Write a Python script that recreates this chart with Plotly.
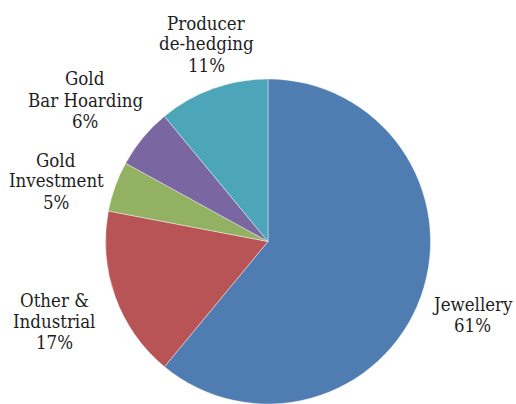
import plotly.graph_objects as go

# Data
categories = ["Jewellery", "Other & Industrial", "Gold Investment", "Gold Bar Hoarding", "Producer de-hedging"]
values = [61, 17, 5, 6, 11]
label_lines = [["Jewellery"], ["Other &", "Industrial"], ["Gold", "Investment"], ["Gold", "Bar Hoarding"], ["Producer", "de-hedging"]]
colors = ["#4F7DB2", "#B85456", "#93B163", "#7A66A0", "#4DA5BA"]

# Layout: label block positions (px center x, px y of first line) and line spacing
W, H = 516, 404
label_pos = [(472, 304), (54, 300), (56, 160), (85, 79), (206, 23)]
line_gap = 21

fig = go.Figure(go.Pie(
    labels=categories,
    values=values,
    sort=False,
    direction="clockwise",
    rotation=0,
    textinfo="none",
    marker=dict(colors=colors, line=dict(color="rgba(255,255,255,0.6)", width=0.7)),
    domain=dict(x=[0.0388, 1.0], y=[0.0, 0.8045]),
    showlegend=False,
))

total = sum(values)
annotations = []
for lines, v, (px, py) in zip(label_lines, values, label_pos):
    all_lines = lines + [f"{round(100 * v / total)}%"]
    for i, t in enumerate(all_lines):
        annotations.append(dict(
            text=t, x=px / W, y=1 - (py + i * line_gap) / H,
            xref="paper", yref="paper", xanchor="center", yanchor="middle",
            showarrow=False,
        ))

fig.update_layout(
    width=W, height=H,
    margin=dict(l=0, r=0, t=0, b=0),
    paper_bgcolor="white", plot_bgcolor="white",
    font=dict(family="'DejaVu Serif Condensed', 'DejaVu Serif', serif", size=18.5, color="#1e1e1e"),
    annotations=annotations,
)

fig.write_html("out.html")
